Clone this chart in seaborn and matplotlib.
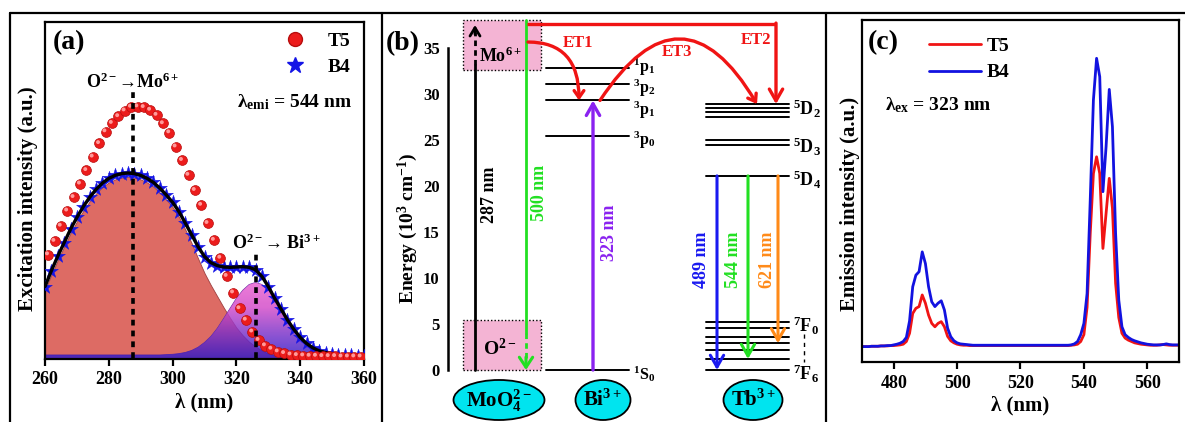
import numpy as np
import pandas as pd
import matplotlib
matplotlib.use("Agg")
import matplotlib.pyplot as plt
import seaborn as sns
from matplotlib.lines import Line2D
from matplotlib.patches import Rectangle, Ellipse, FancyArrowPatch, PathPatch
from matplotlib.colors import LinearSegmentedColormap
import matplotlib.transforms as mtransforms

# ---------------- data: (a) excitation spectra ----------------
t5_wavelength = list(range(261, 361, 2))
t5_excitation = [0.310, 0.350, 0.395, 0.440, 0.480, 0.520, 0.560, 0.600, 0.640, 0.675,
                 0.700, 0.720, 0.737, 0.748, 0.749, 0.747, 0.739, 0.724, 0.699, 0.672,
                 0.630, 0.590, 0.546, 0.501, 0.457, 0.403, 0.353, 0.300, 0.246, 0.197,
                 0.150, 0.116, 0.081, 0.056, 0.040, 0.030, 0.022, 0.017, 0.013, 0.011,
                 0.010, 0.009, 0.009, 0.008, 0.008, 0.008, 0.007, 0.007, 0.007, 0.007]

b4_wavelength = list(range(260, 361, 2))
b4_excitation = [0.215, 0.262, 0.305, 0.345, 0.385, 0.420, 0.452, 0.480, 0.503, 0.522,
                 0.536, 0.545, 0.550, 0.552, 0.550, 0.545, 0.536, 0.524, 0.507, 0.487,
                 0.465, 0.437, 0.403, 0.368, 0.333, 0.304, 0.286, 0.277, 0.273, 0.272,
                 0.273, 0.274, 0.272, 0.265, 0.245, 0.215, 0.180, 0.148, 0.116, 0.088,
                 0.064, 0.046, 0.033, 0.024, 0.019, 0.016, 0.013, 0.012, 0.011, 0.010, 0.010]

# Gaussian components of the B4 fit (O2- -> Mo6+ and O2- -> Bi3+ bands)
fit_mo_band = [0.205, 0.250, 0.293, 0.333, 0.373, 0.408, 0.440, 0.468, 0.491, 0.510,
               0.524, 0.533, 0.538, 0.540, 0.538, 0.533, 0.524, 0.511, 0.494, 0.473,
               0.451, 0.421, 0.384, 0.343, 0.298, 0.255, 0.219, 0.186, 0.153, 0.122,
               0.093, 0.070, 0.051, 0.037, 0.025, 0.016, 0.010, 0.006, 0.004, 0.002,
               0.001, 0.001, 0.001, 0.001, 0.001, 0.001, 0.001, 0.001, 0.001, 0.001, 0.001]
fit_bi_band = [0.012, 0.012, 0.012, 0.012, 0.012, 0.012, 0.012, 0.012, 0.012, 0.012,
               0.012, 0.012, 0.012, 0.012, 0.012, 0.012, 0.012, 0.012, 0.012, 0.013,
               0.014, 0.016, 0.0195, 0.0255, 0.035, 0.049, 0.067, 0.091, 0.120, 0.150,
               0.180, 0.204, 0.221, 0.227, 0.221, 0.204, 0.180, 0.150, 0.120, 0.091,
               0.067, 0.049, 0.035, 0.0255, 0.0195, 0.016, 0.014, 0.013, 0.012, 0.012, 0.012]
band_centers = [287.5, 326.0]
band_label_heights = [0.804, 0.318]

# ---------------- data: (b) energy levels (10^3 cm^-1) ----------------
mo_box = (32.6, 38.0)
o_box = (0.0, 5.4)
bi_levels = [32.8, 31.1, 29.3, 25.4, 0.0]
bi_labels = ["$^{1}$p$_{1}$", "$^{3}$p$_{2}$", "$^{3}$p$_{1}$", "$^{3}$p$_{0}$", "$^{1}$S$_{0}$"]
bi_label_pos = [32.9, 30.6, 28.2, 25.0, -0.5]
tb_d2 = [28.9, 28.5, 28.0, 27.5]
tb_d3 = [25.0, 24.5]
tb_d4 = [21.1]
tb_f = [5.2, 4.6, 3.6, 2.9, 2.2, 1.2, 0.0]
mo_excitation_top = 37.5
tb_emission = {"489 nm": 0.0, "544 nm": 1.2, "621 nm": 2.9}
tick_energies = [0, 5, 10, 15, 20, 25, 30, 35]

# ---------------- data: (c) emission spectra ----------------
em_wavelength = list(range(470, 571))
t5_emission = ([0.045, 0.045, 0.045, 0.046, 0.046, 0.046, 0.047, 0.047, 0.047, 0.048, 0.048, 0.049,
                0.050, 0.052, 0.060, 0.084, 0.142, 0.157, 0.162, 0.196, 0.172, 0.137, 0.113, 0.103,
                0.113, 0.118, 0.103, 0.075, 0.062, 0.056, 0.052, 0.050, 0.049, 0.049, 0.048]
               + [0.048] * 31 +
               [0.049, 0.050, 0.052, 0.060, 0.080, 0.160, 0.376, 0.551, 0.600, 0.551, 0.332, 0.435,
                0.537, 0.450, 0.230, 0.130, 0.084, 0.070, 0.064, 0.060, 0.056, 0.054, 0.052, 0.051,
                0.050, 0.049, 0.049, 0.049, 0.050, 0.051, 0.050, 0.049, 0.049, 0.049, 0.049])
b4_emission = ([0.045, 0.045, 0.045, 0.046, 0.046, 0.046, 0.047, 0.047, 0.048, 0.048, 0.050, 0.052,
                0.055, 0.060, 0.072, 0.120, 0.220, 0.254, 0.264, 0.322, 0.288, 0.220, 0.176, 0.162,
                0.172, 0.179, 0.152, 0.099, 0.074, 0.062, 0.056, 0.053, 0.052, 0.051, 0.050]
               + [0.049] * 31 +
               [0.050, 0.053, 0.060, 0.080, 0.113, 0.200, 0.474, 0.766, 0.888, 0.834, 0.498, 0.630,
                0.797, 0.688, 0.376, 0.181, 0.103, 0.080, 0.072, 0.066, 0.062, 0.059, 0.056, 0.054,
                0.052, 0.051, 0.050, 0.050, 0.050, 0.051, 0.053, 0.051, 0.050, 0.050, 0.050])

# ---------------- style ----------------
sns.set_theme(style="white")
plt.rcParams["font.family"] = ["Liberation Serif", "DejaVu Serif"]
plt.rcParams["font.weight"] = "bold"
plt.rcParams["axes.labelweight"] = "bold"
plt.rcParams["mathtext.fontset"] = "custom"
plt.rcParams["mathtext.rm"] = "Liberation Serif:bold"
plt.rcParams["mathtext.it"] = "Liberation Serif:bold"
plt.rcParams["mathtext.bf"] = "Liberation Serif:bold"
plt.rcParams["mathtext.sf"] = "Liberation Serif:bold"
plt.rcParams["axes.edgecolor"] = "black"
plt.rcParams["xtick.color"] = "black"
plt.rcParams["ytick.color"] = "black"
plt.rcParams["text.color"] = "black"
plt.rcParams["axes.labelcolor"] = "black"

W, H = 1185, 422
fig = plt.figure(figsize=(W / 100, H / 100), dpi=100)
fig.patch.set_facecolor("white")


def frac(left, top, right, bottom):
    return [left / W, 1 - bottom / H, (right - left) / W, (bottom - top) / H]


# outer frame and panel dividers
for xs, ys in [([10, W], [13, 13]), ([10, 10], [13, H]), ([382, 382], [13, H]), ([826, 826], [13, H])]:
    fig.add_artist(Line2D([x / W for x in xs], [1 - y / H for y in ys],
                          transform=fig.transFigure, color="black", lw=1.6))


def style_spectrum_axes(ax):
    for s in ax.spines.values():
        s.set_visible(True)
        s.set_linewidth(1.6)
        s.set_color("black")
    ax.tick_params(axis="x", direction="out", length=5, width=1.6, labelsize=13, pad=4,
                   bottom=True, top=False)
    ax.tick_params(axis="y", left=False, labelleft=False)
    for lab in ax.get_xticklabels():
        lab.set_fontweight("bold")


# ================= (a) =================
axa = fig.add_axes(frac(45, 22, 364, 359))
axa.set_xlim(260, 360)
axa.set_ylim(0, 1)

axa.fill_between(b4_wavelength, 0, fit_mo_band, color="#dc665f", alpha=0.97,
                 edgecolor="#9c3c3c", lw=0.6, zorder=1)
bi_fill = axa.fill_between(b4_wavelength, 0, fit_bi_band, color="none", edgecolor="#5a2aa0",
                           lw=0.6, zorder=2)
grad_cmap = LinearSegmentedColormap.from_list("bi_grad", ["#2a18c8", "#7a30c8", "#d248c8", "#ea60d0"])
grad = np.linspace(0, 1, 256).reshape(-1, 1)
img = axa.imshow(grad, extent=[260, 360, 0, max(fit_bi_band)], origin="lower", aspect="auto",
                 cmap=grad_cmap, alpha=0.82, zorder=2)
clip = PathPatch(bi_fill.get_paths()[0], transform=axa.transData, facecolor="none", edgecolor="none")
axa.add_patch(clip)
img.set_clip_path(clip)

sns.scatterplot(x=b4_wavelength, y=b4_excitation, ax=axa, marker="*", s=110, color="#1414e6",
                edgecolor="#1414e6", linewidth=0.3, zorder=3, legend=False)
sns.lineplot(x=b4_wavelength, y=b4_excitation, ax=axa, color="black", lw=2.4, zorder=4, legend=False)

sns.scatterplot(x=t5_wavelength, y=t5_excitation, ax=axa, marker="o", s=50, color="#ec1c1c",
                edgecolor="#b80e0e", linewidth=0.5, zorder=5, legend=False)
hl = mtransforms.offset_copy(axa.transData, fig=fig, x=-1.2, y=1.2, units="dots")
axa.scatter(t5_wavelength, t5_excitation, s=8, color="#ff9a9a", edgecolor="none", zorder=6,
            transform=hl)

for xc, ytop in zip(band_centers, band_label_heights):
    axa.plot([xc, xc], [0.003, ytop], color="black", lw=2.6, ls=(0, (1.6, 1.4)), zorder=7)

axa.text(band_centers[0], 0.822, "O$^{2-}$→Mo$^{6+}$", ha="center", va="center", fontsize=13)
axa.text(332.7, 0.344, "O$^{2-}$→ Bi$^{3+}$", ha="center", va="center", fontsize=13)
axa.text(356.2, 0.763, "λ$_{emi}$ = 544 nm", ha="right", va="center", fontsize=14)
axa.text(0.025, 0.938, "(a)", transform=axa.transAxes, ha="left", va="center", fontsize=20)

handles_a = [Line2D([], [], ls="none", marker="o", ms=10, color="#ec1c1c", mec="#b80e0e"),
             Line2D([], [], ls="none", marker="*", ms=12, color="#1414e6")]
axa.legend(handles_a, ["T5", "B4"], loc="upper right", bbox_to_anchor=(1.0, 1.01), frameon=False,
           fontsize=14, handletextpad=0.7, labelspacing=0.45, borderaxespad=0.3)

axa.set_xticks([260, 280, 300, 320, 340, 360])
axa.set_yticks([])
axa.set_xlabel("λ (nm)", fontsize=15, labelpad=3)
axa.set_ylabel("Excitation intensity (a.u.)", fontsize=15)
axa.yaxis.set_label_coords(-0.022, 0.475)
style_spectrum_axes(axa)

# ================= (b) =================
axb = fig.add_axes(frac(383, 13, 826, 422))
axb.set_xlim(383, 826)
axb.set_ylim((370 - 422) / 9.2, (370 - 13) / 9.2)
axb.patch.set_alpha(0)
for k in ["top", "right", "bottom"]:
    axb.spines[k].set_visible(False)
axb.spines["left"].set_position(("data", 448))
axb.spines["left"].set_bounds(0, 35)
axb.spines["left"].set_linewidth(1.8)
axb.set_xticks([])
axb.set_yticks(tick_energies)
axb.tick_params(axis="y", direction="out", length=5, width=1.8, labelsize=12, pad=1)
for lab in axb.get_yticklabels():
    lab.set_fontweight("bold")
axb.set_ylabel("Energy (10$^{3}$ cm$^{-1}$)", fontsize=14)
axb.yaxis.set_label_coords(0.0835, 0.474)

pink = "#f4b4d4"
for lo, hi in [mo_box, o_box]:
    axb.add_patch(Rectangle((463, lo), 78, hi - lo, facecolor=pink, edgecolor="black",
                            lw=1.0, ls=(0, (1, 1.5)), zorder=1))
axb.text(501, 34.1, "Mo$^{6+}$", ha="center", va="center", fontsize=13, zorder=3)
axb.text(500, 2.3, "O$^{2-}$", ha="center", va="center", fontsize=14, zorder=3)


def arrow(ax, x0, y0, x1, y1, color, lw=2.4, hl=0.6, hw=0.35, z=4):
    ax.annotate("", xy=(x1, y1), xytext=(x0, y0),
                arrowprops=dict(arrowstyle=f"->,head_length={hl},head_width={hw}", color=color,
                                lw=lw, shrinkA=0, shrinkB=0), zorder=z)


# 287 nm excitation of MoO4 2- group
axb.plot([475, 475], [0, mo_box[0] + 0.6], color="black", lw=2.0, zorder=2)
axb.plot([475, 475], [mo_box[0] + 0.6, mo_excitation_top - 0.8], color="black", lw=2.0,
         ls=(0, (2, 1.5)), zorder=2)
arrow(axb, 475, mo_excitation_top - 1.0, 475, mo_excitation_top, "black", lw=2.0, hl=0.5, hw=0.3)
axb.text(490, 19.0, "287 nm", rotation=90, ha="center", va="center", fontsize=13)

# 500 nm emission of MoO4 2- group
green = "#22e022"
axb.plot([526, 526], [mo_box[1], 4.0], color=green, lw=2.0, zorder=2)
axb.plot([526, 526], [4.0, 1.2], color=green, lw=2.0, ls=(0, (2, 1.5)), zorder=2)
arrow(axb, 526, 1.4, 526, 0.0, green, lw=2.2, hl=0.6, hw=0.4)
axb.text(540, 19.2, "500 nm", rotation=90, ha="center", va="center", fontsize=13, color=green)

# Bi3+ levels
for e, lab, ey in zip(bi_levels, bi_labels, bi_label_pos):
    axb.plot([546, 629], [e, e], color="black", lw=1.4, zorder=2)
    axb.text(633, ey, lab, ha="left", va="center", fontsize=11.5)
violet = "#8a22f0"
arrow(axb, 593, bi_levels[4], 593, bi_levels[2], violet, lw=2.4, hl=0.7, hw=0.4)
axb.text(609, 14.9, "323 nm", rotation=90, ha="center", va="center", fontsize=13, color=violet)

# Tb3+ levels
for e in tb_d2 + tb_d3 + tb_d4 + tb_f:
    axb.plot([706, 789], [e, e], color="black", lw=1.4, zorder=2)
axb.text(793, 28.4, "$^{5}$D$_{2}$", ha="left", va="center", fontsize=13)
axb.text(793, 24.2, "$^{5}$D$_{3}$", ha="left", va="center", fontsize=13)
axb.text(793, 20.7, "$^{5}$D$_{4}$", ha="left", va="center", fontsize=13)
axb.text(793, 4.8, "$^{7}$F$_{0}$", ha="left", va="center", fontsize=13)
axb.text(793, -0.4, "$^{7}$F$_{6}$", ha="left", va="center", fontsize=13)
axb.plot([804, 804], [3.9, 0.9], color="black", lw=1.0, ls=(0, (3, 3)))

tb_colors = ["#1a1af0", green, "#ff8a18"]
tb_x = [717, 748, 778]
tb_text_x = [702, 733, 767]
for (lab, e_end), c, x, xt in zip(tb_emission.items(), tb_colors, tb_x, tb_text_x):
    arrow(axb, x, tb_d4[0], x, e_end, c, lw=2.2, hl=0.7, hw=0.4)
    axb.text(xt, 12.0, lab, rotation=90, ha="center", va="center", fontsize=13, color=c)

# energy transfer paths
red = "#f01414"
y_et2 = (370 - 24) / 9.2
axb.plot([527, 776], [y_et2, y_et2], color=red, lw=2.4, zorder=3, solid_capstyle="butt")
arrow(axb, 776, y_et2 + 0.1, 776, tb_d2[0], red, lw=2.4, hl=0.7, hw=0.4)
axb.text(756, 35.9, "ET2", ha="center", va="center", fontsize=12, color=red)

et1 = FancyArrowPatch((528, 35.65), (579, bi_levels[2]), connectionstyle="angle3,angleA=0,angleB=90",
                      arrowstyle="->,head_length=5,head_width=3.5", color=red, lw=2.4,
                      shrinkA=0, shrinkB=0, zorder=4)
axb.add_patch(et1)
axb.text(578, 35.5, "ET1", ha="center", va="center", fontsize=12, color=red)

et3 = FancyArrowPatch((600, bi_levels[2]), (757, tb_d2[0]), connectionstyle="arc3,rad=-0.8",
                      arrowstyle="->,head_length=5,head_width=3.5", color=red, lw=2.4,
                      shrinkA=0, shrinkB=0, zorder=4)
axb.add_patch(et3)
axb.text(677, 34.6, "ET3", ha="center", va="center", fontsize=12, color=red)

# ion labels
cyan = "#00e4ef"
for xc, w, lab in [(499, 91, "MoO$_{4}^{2-}$"), (603, 55, "Bi$^{3+}$"), (753, 59, "Tb$^{3+}$")]:
    axb.add_patch(Ellipse((xc, -3.26), w, 4.35, facecolor=cyan, edgecolor="black", lw=1.3,
                          clip_on=False, zorder=3))
    axb.text(xc, -3.3, lab, ha="center", va="center", fontsize=15, zorder=4)

axb.text(403, 35.5, "(b)", ha="center", va="center", fontsize=20)

# ================= (c) =================
axc = fig.add_axes(frac(862, 20, 1179, 362))
em_df = pd.DataFrame({"wavelength": em_wavelength * 2,
                      "intensity": t5_emission + b4_emission,
                      "sample": ["T5"] * len(em_wavelength) + ["B4"] * len(em_wavelength)})
sns.lineplot(data=em_df, x="wavelength", y="intensity", hue="sample",
             palette={"T5": "#f01414", "B4": "#1212e0"}, lw=2.0, ax=axc)
axc.set_xlim(470, 570)
axc.set_ylim(0, 1)
axc.set_xticks([480, 500, 520, 540, 560])
axc.set_yticks([])
axc.set_xlabel("λ (nm)", fontsize=15, labelpad=3)
axc.set_ylabel("Emission intensity (a.u.)", fontsize=15)
axc.yaxis.set_label_coords(-0.006, 0.462)
style_spectrum_axes(axc)
axc.legend(loc="upper left", bbox_to_anchor=(0.155, 1.0), frameon=False, fontsize=14,
           handlelength=2.7, handletextpad=0.3, labelspacing=0.45, title=None)
axc.text(0.019, 0.933, "(c)", transform=axc.transAxes, ha="left", va="center", fontsize=20)
axc.text(0.073, 0.751, "λ$_{ex}$ = 323 nm", transform=axc.transAxes, ha="left", va="center",
         fontsize=14)

fig.savefig("out.png", dpi=100, facecolor="white")
